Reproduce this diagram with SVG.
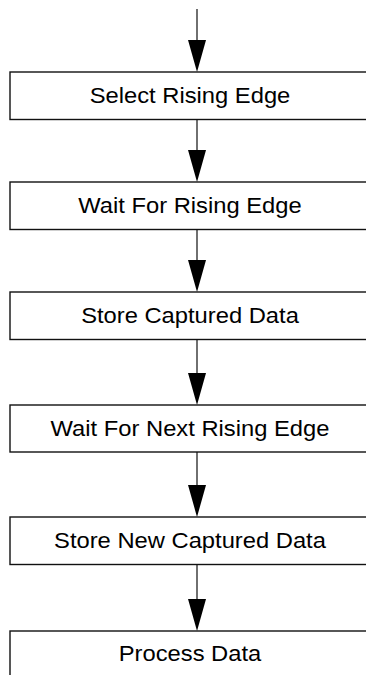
<svg xmlns="http://www.w3.org/2000/svg" width="366" height="675" viewBox="0 0 366 675">
<defs>
<marker id="ah" markerUnits="userSpaceOnUse" markerWidth="18" markerHeight="32" refX="18" refY="9" orient="auto" viewBox="0 0 32 18">
<path d="M0,0 L32,9 L0,18 Z" fill="#000"/>
</marker>
<style>
.box{fill:#fff;stroke:#111;stroke-width:1.4}
.lbl{font-family:"Liberation Sans",Arial,sans-serif;font-size:21.5px;fill:#000;text-anchor:middle}
.conn{stroke:#333;stroke-width:1.4;fill:none}
</style>
</defs>
<rect width="366" height="675" fill="#fff"/>
<g id="connectors">
<line class="conn" x1="197" y1="9" x2="197" y2="58"/>
<path d="M188,40 L206,40 L197,72 Z" fill="#000"/>
<line class="conn" x1="197" y1="120" x2="197" y2="160"/>
<path d="M188,150 L206,150 L197,182 Z" fill="#000"/>
<line class="conn" x1="197" y1="229" x2="197" y2="270"/>
<path d="M188,260 L206,260 L197,292 Z" fill="#000"/>
<line class="conn" x1="197" y1="340" x2="197" y2="383"/>
<path d="M188,373 L206,373 L197,405 Z" fill="#000"/>
<line class="conn" x1="197" y1="452" x2="197" y2="495"/>
<path d="M188,485 L206,485 L197,517 Z" fill="#000"/>
<line class="conn" x1="197" y1="565" x2="197" y2="609"/>
<path d="M188,599 L206,599 L197,631 Z" fill="#000"/>
</g>
<g id="n1"><rect class="box" x="10" y="72" width="400" height="47.5"/><text class="lbl" transform="matrix(1.105 0 0 1 190 102.7)">Select Rising Edge</text></g>
<g id="n2"><rect class="box" x="10" y="182" width="400" height="47.5"/><text class="lbl" transform="matrix(1.105 0 0 1 190 212.7)">Wait For Rising Edge</text></g>
<g id="n3"><rect class="box" x="10" y="292" width="400" height="47.5"/><text class="lbl" transform="matrix(1.105 0 0 1 190 322.7)">Store Captured Data</text></g>
<g id="n4"><rect class="box" x="10" y="405" width="400" height="47"/><text class="lbl" transform="matrix(1.105 0 0 1 190 435.5)">Wait For Next Rising Edge</text></g>
<g id="n5"><rect class="box" x="10" y="517" width="400" height="47.5"/><text class="lbl" transform="matrix(1.105 0 0 1 190 547.7)">Store New Captured Data</text></g>
<g id="n6"><rect class="box" x="10" y="631" width="400" height="80"/><text class="lbl" transform="matrix(1.105 0 0 1 190 661)">Process Data</text></g>
</svg>
